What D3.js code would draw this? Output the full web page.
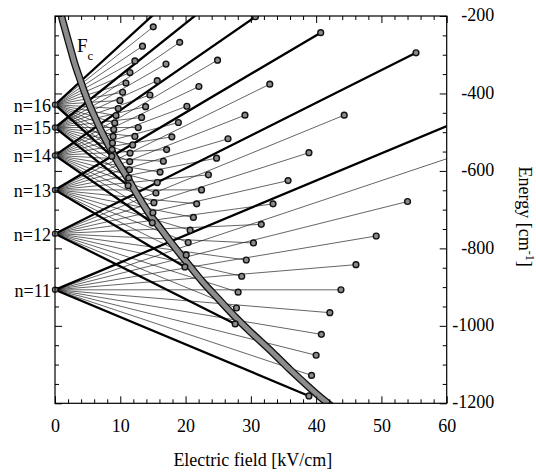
<!DOCTYPE html>
<html>
<head>
<meta charset="utf-8">
<script src="https://cdn.jsdelivr.net/npm/d3@7"></script>
<style>
  html, body { margin: 0; padding: 0; background: #fff; }
  svg { display: block; }
  text { font-family: "Liberation Serif", "Times New Roman", serif; fill: #000; }
</style>
</head>
<body>
<svg id="chart" width="536" height="476"></svg>
<script>
// ---------------- data ----------------
const nLevels = [11, 12, 13, 14, 15, 16];
const zeroFieldEnergy = [-907, -762, -649, -560, -488, -429];

// End point [field kV/cm, energy cm^-1] of each Stark state, lowest (red) to highest (blue)
const ends11 = [[38.9,-1181],[39.3,-1128],[40.0,-1076],[40.8,-1022],[42.1,-966],[43.8,-907],
                [46.1,-842],[49.2,-768],[54.0,-679],[61,-563],[61,-477]];
const ends12 = [[27.6,-995],[27.8,-954],[28.05,-913],[28.6,-872],[29.3,-830],[30.4,-786],
                [31.6,-738],[33.4,-685],[35.7,-625],[38.9,-553],[44.3,-456],[55.3,-295]];
const ends13 = [[19.9,-848],[20.1,-817],[20.4,-785],[20.7,-753],[21.2,-720],[21.7,-685],
                [22.45,-649],[23.5,-610],[24.75,-567],[26.5,-517],[29.1,-456],[32.9,-376],[40.7,-243]];
const ends14 = [[14.9,-734],[15.0,-708],[15.15,-682],[15.46,-657],[15.66,-630],[16.1,-603],
                [16.6,-575],[17.1,-545],[17.9,-512],[18.9,-475],[20.2,-433],[22.04,-382],[24.9,-314],[30.7,-202]];
const ends15 = [[11.2,-638],[11.3,-618],[11.4,-597],[11.45,-576],[11.5,-554],[11.9,-533],
                [12.24,-511],[12.75,-488],[13.27,-462],[13.88,-434],[14.54,-404],[15.66,-367],
                [17.0,-324],[19.1,-268],[22,-192]];
const ends16 = [[8.7,-562],[8.75,-545],[8.8,-528],[8.9,-511],[9.0,-493],[9.15,-476],
                [9.35,-457],[9.69,-439],[9.95,-418],[10.36,-397],[10.87,-373],[11.48,-346],
                [12.24,-316],[13.4,-278],[15.05,-228],[15.5,-190]];
const stateEnds = [ends11, ends12, ends13, ends14, ends15, ends16];

// classical ionisation field curve F_c
const fcCurve = [[0.85,-180],[1.0,-200],[1.6,-238],[2.3,-280],[3.0,-322],[3.6,-352],[4.4,-391],
                 [5.4,-435],[6.4,-472],[7.4,-508],[8.5,-543],[9.6,-577],[11.0,-615],[12.7,-664],
                 [14.5,-712],[16.0,-745],[17.6,-781],[19.9,-830],[22.7,-888],[25.0,-930],
                 [27.6,-977],[29.9,-1015],[33.4,-1070],[36.0,-1113],[38.5,-1152],[40.5,-1182],
                 [42.3,-1207],[43,-1218]];

const xMajorTicks = [0, 10, 20, 30, 40, 50, 60];
const yMajorTicks = [-1200, -1000, -800, -600, -400, -200];

// ---------------- layout ----------------
const svg = d3.select("#chart");
const L = 55, R = 446.7, T = 16, B = 403.3;
const x = d3.scaleLinear().domain([0, 60]).range([L, R]);
const y = d3.scaleLinear().domain([-1200, -200]).range([B, T]);

svg.append("defs").append("clipPath").attr("id", "plotclip")
  .append("rect").attr("x", L).attr("y", T).attr("width", R - L).attr("height", B - T);

const plot = svg.append("g").attr("clip-path", "url(#plotclip)");

// Stark lines
const thin = [], thick = [];
stateEnds.forEach((ends, i) => {
  ends.forEach((e, j) => {
    const seg = { x0: zeroFieldEnergy[i], end: e };
    if (j === 0 || j === ends.length - 1) thick.push(seg); else thin.push(seg);
  });
});

plot.append("g").selectAll("line").data(thin).join("line")
  .attr("x1", x(0)).attr("y1", d => y(d.x0))
  .attr("x2", d => x(d.end[0])).attr("y2", d => y(d.end[1]))
  .attr("stroke", "#222").attr("stroke-width", 0.7);

plot.append("g").selectAll("line").data(thick).join("line")
  .attr("x1", x(0)).attr("y1", d => y(d.x0))
  .attr("x2", d => x(d.end[0])).attr("y2", d => y(d.end[1]))
  .attr("stroke", "#000").attr("stroke-width", 2.3).attr("stroke-linecap", "round");

// F_c curve (gray band with black outline)
const fcLine = d3.line().x(d => x(d[0])).y(d => y(d[1])).curve(d3.curveCatmullRom);
plot.append("path").attr("d", fcLine(fcCurve))
  .attr("fill", "none").attr("stroke", "#111").attr("stroke-width", 7.5);
plot.append("path").attr("d", fcLine(fcCurve))
  .attr("fill", "none").attr("stroke", "#8c8c8c").attr("stroke-width", 4.8);

// ionisation dots
const dots = [];
stateEnds.forEach(ends => ends.forEach(e => {
  if (e[0] < 59.9 && e[1] < -200.5) dots.push(e);
}));
plot.append("g").selectAll("circle").data(dots).join("circle")
  .attr("cx", d => x(d[0])).attr("cy", d => y(d[1])).attr("r", 2.9)
  .attr("fill", "#8a8a8a").attr("stroke", "#111").attr("stroke-width", 1.4);

// zero-field dots
svg.append("g").selectAll("circle").data(zeroFieldEnergy).join("circle")
  .attr("cx", x(0)).attr("cy", d => y(d)).attr("r", 2.6)
  .attr("fill", "#999").attr("stroke", "#222").attr("stroke-width", 1.2);

// ---------------- axes ----------------
const minorX = d3.range(0, 61, 2).filter(v => v % 10 !== 0);
const minorY = d3.range(-1200, -199, 50).filter(v => v % 200 !== 0);

function styleAxis(g) {
  g.select(".domain").remove();
  g.selectAll(".tick line").attr("stroke", "#000").attr("stroke-width", 1);
}

// bottom
svg.append("g").attr("transform", `translate(0,${B})`)
  .call(d3.axisBottom(x).tickValues(xMajorTicks).tickSize(-7).tickFormat(d3.format("d")))
  .call(styleAxis)
  .call(g => g.selectAll(".tick text").attr("y", 29).attr("dy", 0)
    .attr("font-size", 18).attr("font-family", "Liberation Serif"));
svg.append("g").attr("transform", `translate(0,${B})`)
  .call(d3.axisBottom(x).tickValues(minorX).tickSize(-4).tickFormat(""))
  .call(styleAxis);
// top
svg.append("g").attr("transform", `translate(0,${T})`)
  .call(d3.axisTop(x).tickValues(xMajorTicks).tickSize(-7).tickFormat(""))
  .call(styleAxis);
svg.append("g").attr("transform", `translate(0,${T})`)
  .call(d3.axisTop(x).tickValues(minorX).tickSize(-4).tickFormat(""))
  .call(styleAxis);
// right (labelled)
svg.append("g").attr("transform", `translate(${R},0)`)
  .call(d3.axisRight(y).tickValues(yMajorTicks).tickSize(-7).tickFormat(d3.format("d")))
  .call(styleAxis)
  .call(g => g.selectAll(".tick text").attr("x", 47.5).attr("dy", "0.26em")
    .attr("text-anchor", "end").attr("font-size", 18).attr("font-family", "Liberation Serif")
    .text(d => "-" + Math.abs(d)));
svg.append("g").attr("transform", `translate(${R},0)`)
  .call(d3.axisRight(y).tickValues(minorY).tickSize(-4).tickFormat(""))
  .call(styleAxis);
// left
svg.append("g").attr("transform", `translate(${L},0)`)
  .call(d3.axisLeft(y).tickValues(yMajorTicks).tickSize(-7).tickFormat(""))
  .call(styleAxis);
svg.append("g").attr("transform", `translate(${L},0)`)
  .call(d3.axisLeft(y).tickValues(minorY).tickSize(-4).tickFormat(""))
  .call(styleAxis);

// frame
svg.append("rect").attr("x", L).attr("y", T).attr("width", R - L).attr("height", B - T)
  .attr("fill", "none").attr("stroke", "#000").attr("stroke-width", 1.2);

// manifold labels
svg.append("g").selectAll("text").data(nLevels).join("text")
  .attr("x", 51).attr("y", (d, i) => y(zeroFieldEnergy[i]))
  .attr("dy", "0.38em").attr("text-anchor", "end").attr("font-size", 18)
  .text(d => "n=" + d);

// F_c label
const fc = svg.append("text").attr("x", 77).attr("y", 52).attr("font-size", 19);
fc.append("tspan").text("F");
fc.append("tspan").attr("dy", 8).attr("font-size", 13).text("c");

// axis titles
svg.append("text").attr("x", (L + R) / 2 + 2).attr("y", 466).attr("text-anchor", "middle")
  .attr("font-size", 18).text("Electric field [kV/cm]");
const yt = svg.append("text").attr("transform", `translate(519,${(T + B) / 2 + 7}) rotate(90)`)
  .attr("text-anchor", "middle").attr("font-size", 18);
yt.append("tspan").text("Energy [cm");
yt.append("tspan").attr("dy", -7).attr("font-size", 12).text("-1");
yt.append("tspan").attr("dy", 7).text("]");
</script>
</body>
</html>
